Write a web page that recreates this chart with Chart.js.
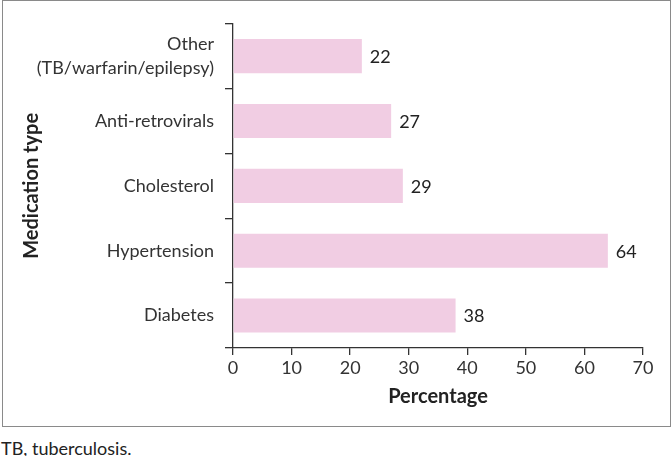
<!DOCTYPE html>
<html>
<head>
<meta charset="utf-8">
<script src="https://cdn.jsdelivr.net/npm/chart.js@4.4.1/dist/chart.umd.min.js"></script>
<style>
  html, body { margin: 0; padding: 0; background: #fff; }
  #box { position: absolute; left: 2px; top: 0px; width: 667px; height: 425px; border: 1px solid #8a8a8a; }
  #wrap { position: absolute; left: 0; top: 0; width: 667px; height: 425px; }
  #note { position: absolute; left: 1px; top: 437px; font-family: Lato, sans-serif; font-size: 18px; line-height: 22px; color: #222; }
</style>
</head>
<body>
<div id="box"><div id="wrap"><canvas id="c"></canvas></div></div>
<div id="note">TB, tuberculosis.</div>
<script>
const categories = [["Other", "(TB/warfarin/epilepsy)"], "Anti-retrovirals", "Cholesterol", "Hypertension", "Diabetes"];
const percentages = [22, 27, 29, 64, 38];
const xTicks = [0, 10, 20, 30, 40, 50, 60, 70];

const valueLabels = {
  id: 'valueLabels',
  afterDatasetsDraw(chart) {
    const ctx = chart.ctx;
    const meta = chart.getDatasetMeta(0);
    ctx.save();
    ctx.font = '18px Lato, sans-serif';
    ctx.fillStyle = '#222';
    ctx.textAlign = 'left';
    ctx.textBaseline = 'middle';
    meta.data.forEach((bar, i) => {
      ctx.fillText(String(percentages[i]), bar.x + 8, bar.y + 1);
    });
    ctx.restore();
  }
};

new Chart(document.getElementById('c'), {
  type: 'bar',
  data: {
    labels: categories,
    datasets: [{
      data: percentages,
      backgroundColor: '#f1cde3',
      borderWidth: 0,
      barPercentage: 0.525,
      categoryPercentage: 1
    }]
  },
  options: {
    indexAxis: 'y',
    responsive: true,
    maintainAspectRatio: false,
    animation: false,
    layout: { padding: { top: 14, right: 27, left: 0, bottom: 0 } },
    plugins: { legend: { display: false }, tooltip: { enabled: false } },
    scales: {
      x: {
        min: 0, max: 70,
        afterBuildTicks(scale) { scale.ticks = xTicks.map(v => ({ value: v })); },
        afterFit(scale) { scale.height = 78; },
        grid: { display: true, drawOnChartArea: false, drawTicks: true, tickLength: 7, color: '#333', lineWidth: 1.3 },
        border: { display: true, color: '#333', width: 1.3 },
        ticks: { padding: 2, color: '#333', font: { family: 'Lato, sans-serif', size: 18 } },
        title: { display: true, text: 'Percentage', color: '#222', padding: { top: 0, bottom: 17 }, font: { family: 'Lato, sans-serif', size: 20, weight: 'bold' } }
      },
      y: {
        afterFit(scale) { scale.width = 230; },
        grid: { display: true, drawOnChartArea: false, drawTicks: true, tickLength: 8, offset: true, color: '#333', lineWidth: 1.3 },
        border: { display: true, color: '#333', width: 1.3 },
        ticks: { padding: 11, color: '#333', font: { family: 'Lato, sans-serif', size: 18, lineHeight: 1.3 } },
        title: { display: true, text: 'Medication type', color: '#222', padding: { top: 17, bottom: 0 }, font: { family: 'Lato, sans-serif', size: 20, weight: 'bold' } }
      }
    }
  },
  plugins: [valueLabels]
});
</script>
</body>
</html>
